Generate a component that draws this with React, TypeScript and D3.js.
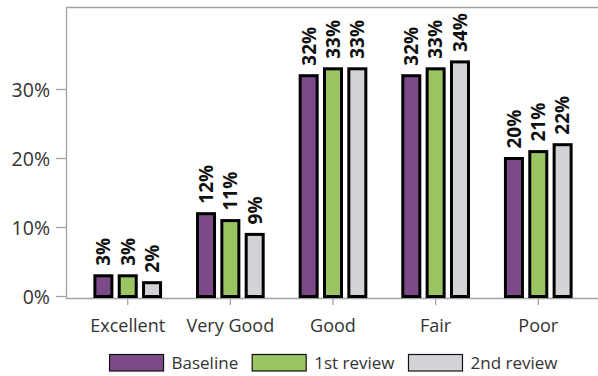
import React, { useEffect, useRef } from "react";
import * as d3 from "d3";

const categories = ["Excellent", "Very Good", "Good", "Fair", "Poor"];
const seriesNames = ["Baseline", "1st review", "2nd review"];
const baseline = [3, 12, 32, 32, 20];
const review1 = [3, 11, 33, 33, 21];
const review2 = [2, 9, 33, 34, 22];
const yTicks = [0, 10, 20, 30];
const colors = ["#7d4a89", "#9bc562", "#d2d3d6"];

const W = 598;
const H = 376;

export default function App() {
  const ref = useRef<SVGSVGElement | null>(null);

  useEffect(() => {
    const svg = d3.select(ref.current);
    svg.selectAll("*").remove();
    const font = "'Open Sans', 'Noto Sans', sans-serif";
    const values = [baseline, review1, review2];

    const y = d3.scaleLinear().domain([0, 42]).range([296.5, 6.7]);
    const x0 = d3.scaleBand<string>().domain(categories).range([76.4, 589.6]).padding(0);
    const x1 = d3.scaleBand<string>().domain(seriesNames).range([-36.5, 36.5]).padding(0);
    const axisColor = "#a2a2a2";

    // frame lines
    svg.append("line").attr("x1", 66.5).attr("x2", 66.5).attr("y1", 7).attr("y2", 298.5)
      .attr("stroke", axisColor).attr("stroke-width", 1.3);
    svg.append("line").attr("x1", 66).attr("x2", W).attr("y1", 7.5).attr("y2", 7.5)
      .attr("stroke", axisColor).attr("stroke-width", 1.3);
    svg.append("line").attr("x1", 66).attr("x2", W).attr("y1", 298.5).attr("y2", 298.5)
      .attr("stroke", axisColor).attr("stroke-width", 1.3);

    // y ticks
    const yt = svg.append("g");
    yTicks.forEach((t) => {
      yt.append("line").attr("x1", 56).attr("x2", 66).attr("y1", y(t)).attr("y2", y(t))
        .attr("stroke", axisColor).attr("stroke-width", 1.3);
      yt.append("text").attr("x", 50).attr("y", y(t)).attr("dy", "0.36em")
        .attr("text-anchor", "end").attr("font-family", font).attr("font-size", 19.5)
        .attr("fill", "#333").text(`${t}%`);
    });

    // x ticks
    categories.forEach((c) => {
      const cx = (x0(c) as number) + x0.bandwidth() / 2;
      svg.append("line").attr("x1", cx).attr("x2", cx).attr("y1", 298.5).attr("y2", 305)
        .attr("stroke", axisColor).attr("stroke-width", 1.3);
      svg.append("text").attr("x", cx).attr("y", 331.5).attr("text-anchor", "middle")
        .attr("font-family", font).attr("font-size", 18).attr("fill", "#333").text(c);
    });

    // bars
    categories.forEach((c, ci) => {
      const cx = (x0(c) as number) + x0.bandwidth() / 2;
      seriesNames.forEach((s, si) => {
        const v = values[si][ci];
        const bx = cx + (x1(s) as number) + x1.bandwidth() / 2;
        const bw = 17;
        svg.append("rect").attr("x", bx - bw / 2).attr("y", y(v)).attr("width", bw)
          .attr("height", y(0) - y(v)).attr("fill", colors[si]).attr("stroke", "#000")
          .attr("stroke-width", 3);
        svg.append("text")
          .attr("transform", `translate(${bx},${y(v) - 10}) rotate(-90)`)
          .attr("dy", "0.36em").attr("text-anchor", "start")
          .attr("font-family", font).attr("font-size", 19).attr("font-weight", "bold")
          .attr("fill", "#111").text(`${v}%`);
      });
    });

    // legend
    const lg = svg.append("g");
    const swW = 54, swH = 16.5, gapText = 8, gapEntry = 14;
    const entries = seriesNames.map((s, i) => {
      const g = lg.append("g");
      g.append("rect").attr("x", 0).attr("y", 354.5).attr("width", swW).attr("height", swH)
        .attr("fill", colors[i]).attr("stroke", "#111").attr("stroke-width", 1.2);
      const t = g.append("text").attr("x", swW + gapText).attr("y", 368.5)
        .attr("font-family", font).attr("font-size", 17).attr("fill", "#333").text(s);
      const tw = (t.node() as SVGTextElement).getComputedTextLength();
      return { g, w: swW + gapText + tw };
    });
    const total = d3.sum(entries, (e) => e.w) + gapEntry * (entries.length - 1);
    let cur = 333.5 - total / 2;
    entries.forEach((e) => {
      e.g.attr("transform", `translate(${cur},0)`);
      cur += e.w + gapEntry;
    });
  }, []);

  return (
    <svg
      ref={ref}
      width={W}
      height={H}
      style={{ position: "absolute", left: 0, top: 0, background: "#fff" }}
    />
  );
}
